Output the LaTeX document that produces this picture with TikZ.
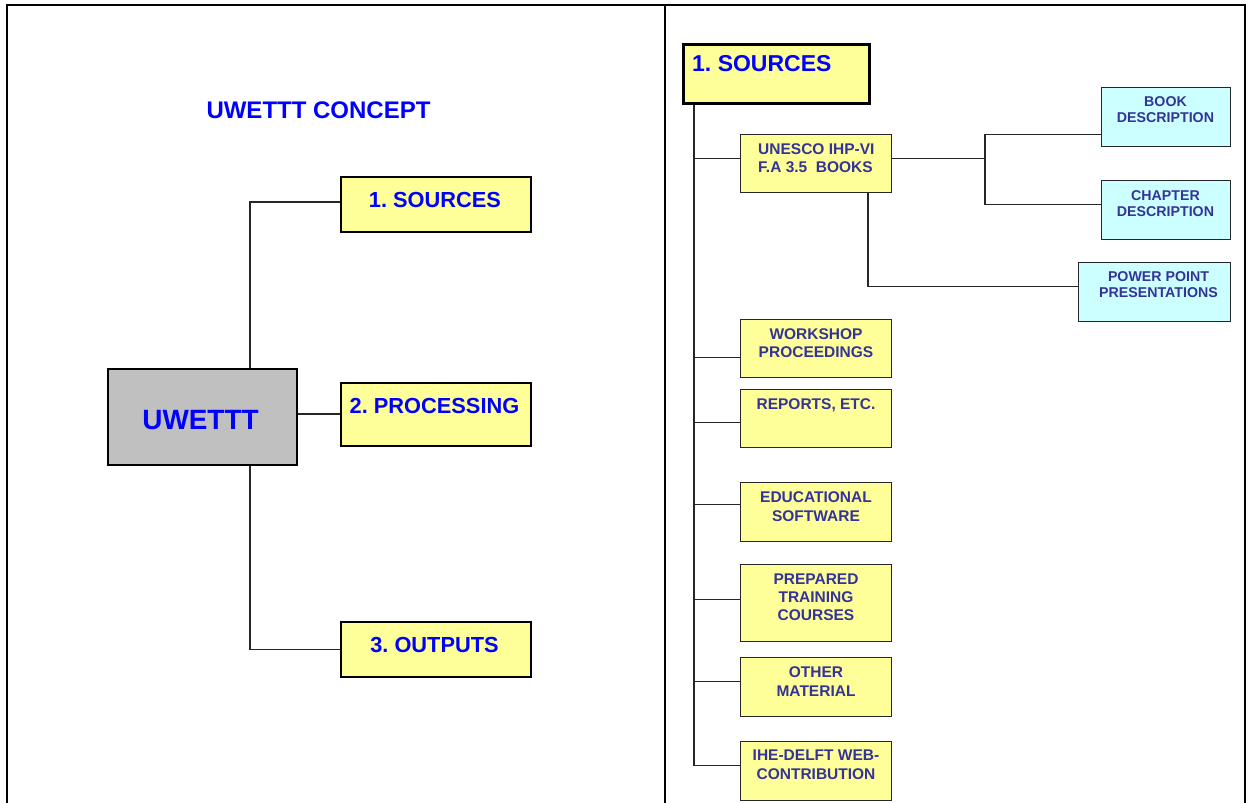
\documentclass[tikz,border=0pt]{standalone}
\usepackage{fontspec}
\setmainfont{Liberation Sans}
\frenchspacing
\definecolor{ublue}{RGB}{0,0,255}
\definecolor{dblue}{RGB}{51,51,153}
\definecolor{pyellow}{RGB}{255,255,153}
\definecolor{pcyan}{RGB}{204,255,255}
\definecolor{pgray}{RGB}{192,192,192}
\begin{document}
\begin{tikzpicture}[x=1pt,y=-1pt,
  frameline/.style={line width=2.6pt,black},
  conn/.style={line width=1.1pt,black!85},
  bigbox/.style={draw=black,line width=2pt,fill=pyellow,inner sep=0pt,anchor=north west},
  smallbox/.style={draw=black!85,line width=1.2pt,fill=pyellow,inner sep=0pt,anchor=north west},
  cyanbox/.style={draw=black!85,line width=1.2pt,fill=pcyan,inner sep=0pt,anchor=north west},
  bigtxt/.style={inner sep=0pt,anchor=north,text=ublue,font=\fontsize{21.8}{26}\selectfont\bfseries},
  smtxt/.style={inner sep=0pt,anchor=north,align=center,text=dblue,font=\fontsize{15.5}{18.3}\selectfont\bfseries},
  cytxt/.style={inner sep=0pt,anchor=north,align=center,text=dblue,font=\fontsize{14.2}{15.7}\selectfont\bfseries}]
\path[use as bounding box] (0,0) rectangle (1248,803);
% frame
\draw[frameline] (7,803) -- (7,5) -- (1245,5) -- (1245,803);
\draw[frameline] (665,5) -- (665,803);

% ---------------- left panel ----------------
\node[inner sep=0pt,text=ublue,font=\fontsize{24}{28}\selectfont\bfseries] (title) at (318.5,110.5) {UWETTT CONCEPT};

\node[draw=black,line width=2pt,fill=pgray,inner sep=0pt,anchor=north west,minimum width=189pt,minimum height=96pt] (uw) at (107,368) {};
\node[inner sep=0pt,text=ublue,font=\fontsize{27.9}{32}\selectfont\bfseries] (uwt) at (200.5,420) {UWETTT};

\node[bigbox,minimum width=190pt,minimum height=55pt] (src) at (340,176) {};
\node[bigtxt] (srct) at (435,192.2) {1. SOURCES};
\node[bigbox,minimum width=190pt,minimum height=63pt] (proc) at (340,382) {};
\node[bigtxt] (proct) at (434.5,398.2) {2. PROCESSING};
\node[bigbox,minimum width=190pt,minimum height=55pt] (outp) at (340,621) {};
\node[bigtxt] (outpt) at (434.5,637.2) {3. OUTPUTS};

\coordinate (xl) at (250,0);
\draw[conn] (uw.north -| xl) |- ([yshift=2.5pt]src.west);
\draw[conn] ([yshift=3pt]uw.east) -- ([yshift=3pt]uw.east -| proc.west);
\draw[conn] (uw.south -| xl) |- (outp.west);

% ---------------- right panel ----------------
\node[draw=black,line width=3pt,fill=pyellow,inner sep=0pt,anchor=north west,minimum width=186pt,minimum height=59pt] (srcR) at (682,43) {};
\node[inner sep=0pt,anchor=north west,text=ublue,font=\fontsize{23}{27}\selectfont\bfseries] (srcRt) at (692,55) {1. SOURCES};

\node[smallbox,minimum width=151pt,minimum height=58pt] (un) at (740,134) {};
\node[inner sep=0pt,anchor=north west,align=left,text=dblue,font=\fontsize{15.5}{18.3}\selectfont\bfseries] (unt) at (758,143) {UNESCO IHP-VI\\F.A 3.5\ \ BOOKS};

\node[cyanbox,minimum width=129pt,minimum height=59pt] (book) at (1101,87) {};
\node[cytxt] (bookt) at (1165.5,96.7) {BOOK\\DESCRIPTION};
\node[cyanbox,minimum width=129pt,minimum height=59pt] (chap) at (1101,180) {};
\node[cytxt] (chapt) at (1165.5,190.7) {CHAPTER\\DESCRIPTION};
\node[cyanbox,minimum width=152pt,minimum height=59pt] (pp) at (1078,262) {};
\node[cytxt] (ppt) at (1158.5,271.7) {POWER POINT\\PRESENTATIONS};

\node[smallbox,minimum width=151pt,minimum height=58pt] (ws) at (740,319) {};
\node[smtxt] (wst) at (816,328.3) {WORKSHOP\\PROCEEDINGS};
\node[smallbox,minimum width=151pt,minimum height=58pt] (rep) at (740,389) {};
\node[smtxt] (rept) at (816,398.3) {REPORTS, ETC.};
\node[smallbox,minimum width=151pt,minimum height=59pt] (edu) at (740,482) {};
\node[smtxt] (edut) at (816,491.7) {EDUCATIONAL\\SOFTWARE};
\node[smallbox,minimum width=151pt,minimum height=77pt] (prep) at (740,564) {};
\node[smtxt] (prept) at (816,573.3) {PREPARED\\TRAINING\\COURSES};
\node[smallbox,minimum width=151pt,minimum height=59pt] (oth) at (740,657) {};
\node[smtxt] (otht) at (816,666.7) {OTHER\\MATERIAL};
\node[smallbox,minimum width=151pt,minimum height=59pt] (ihe) at (740,741) {};
\node[smtxt] (ihet) at (816,750) {IHE-DELFT WEB-\\CONTRIBUTION};

% trunk and branches
\coordinate (tr) at (694,0);
\draw[conn] (srcR.south -| tr) |- ([yshift=5pt]un.west);
\draw[conn] (srcR.south -| tr) |- ([yshift=-9pt]ws.west);
\draw[conn] (srcR.south -| tr) |- ([yshift=-4pt]rep.west);
\draw[conn] (srcR.south -| tr) |- ([yshift=7.5pt]edu.west);
\draw[conn] (srcR.south -| tr) |- ([yshift=4pt]prep.west);
\draw[conn] (srcR.south -| tr) |- ([yshift=5.5pt]oth.west);
\draw[conn] (srcR.south -| tr) |- ([yshift=6pt]ihe.west);

% UNESCO sub-branches
\coordinate (fork) at (985,0);
\draw[conn] ([yshift=5pt]un.east) -- ([yshift=5pt]un.east -| fork);
\draw[conn] ([yshift=5pt]un.east -| fork) |- ([yshift=-17.5pt]book.west);
\draw[conn] ([yshift=5pt]un.east -| fork) |- ([yshift=5.5pt]chap.west);
\coordinate (ux) at (868,0);
\draw[conn] (un.south -| ux) |- ([yshift=5.5pt]pp.west);
\end{tikzpicture}
\end{document}
